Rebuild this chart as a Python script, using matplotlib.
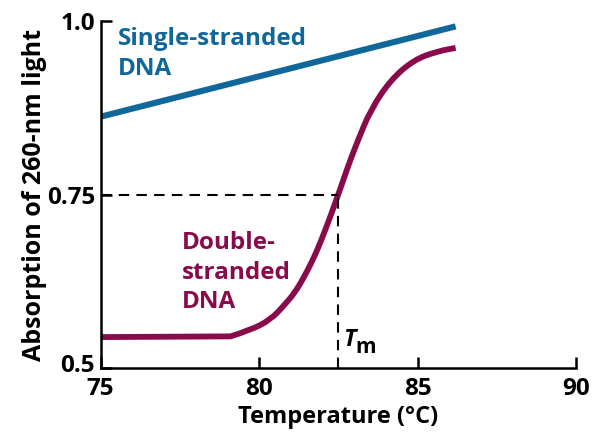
import numpy as np
import matplotlib
matplotlib.use('Agg')
import matplotlib.pyplot as plt
from matplotlib.path import Path
from matplotlib.patches import PathPatch
from matplotlib.transforms import ScaledTranslation

# values
single_temp = [75.0, 86.2]
single_abs = [0.862, 0.992]

double_temp = [75.0, 79.1, 79.73, 80.36, 80.78, 81.15, 81.5, 81.8, 82.1,
               82.5, 82.8, 83.1, 83.52, 84.15, 84.89, 85.62, 86.2]
double_abs = [0.545, 0.546, 0.555, 0.570, 0.590, 0.610, 0.638, 0.666, 0.700,
              0.750, 0.790, 0.826, 0.872, 0.915, 0.944, 0.956, 0.961]

tm = 82.5
tm_abs = 0.75

x_ticks = [75, 80, 85, 90]
y_ticks = [0.5, 0.75, 1.0]
y_ticklabels = ['0.5', '0.75', '1.0']

blue = '#10679a'
magenta = '#8a0b4c'

plt.rcParams['font.family'] = ['Open Sans', 'DejaVu Sans']
plt.rcParams['font.weight'] = 'bold'

fig = plt.figure(figsize=(5.93, 4.38), dpi=100)
ax = fig.add_axes([0.1695, 0.159, 0.802, 0.7935])

ax.plot(single_temp, single_abs, color=blue, lw=4.4, solid_capstyle='butt')

# smooth the read points with quadratic segments (control = read point)
pts = list(zip(double_temp, double_abs))
verts = [pts[0], pts[1]]
codes = [Path.MOVETO, Path.LINETO]
for i in range(2, len(pts) - 1):
    mid = ((pts[i][0] + pts[i + 1][0]) / 2, (pts[i][1] + pts[i + 1][1]) / 2)
    verts += [pts[i], mid]
    codes += [Path.CURVE3, Path.CURVE3]
verts.append(pts[-1])
codes.append(Path.LINETO)
ax.add_patch(PathPatch(Path(verts, codes), facecolor='none', edgecolor=magenta,
                       lw=4.2, capstyle='butt', joinstyle='round'))

# Tm guide lines
ax.plot([75, tm], [tm_abs, tm_abs], color='black', lw=1.5, dashes=(5, 3.5))
ax.plot([tm, tm], [0.5, tm_abs], color='black', lw=1.5, dashes=(5, 3.5))

ax.set_xlim(75, 90)
ax.set_ylim(0.5, 1.0)
ax.set_xticks(x_ticks)
ax.set_yticks(y_ticks)
ax.set_yticklabels(y_ticklabels)

for s in ['top', 'right']:
    ax.spines[s].set_visible(False)
for s in ['left', 'bottom']:
    ax.spines[s].set_linewidth(1.8)
    ax.spines[s].set_capstyle('projecting')

ax.tick_params(direction='in', length=8, width=1.8, labelsize=17.5)
ax.tick_params(axis='x', pad=6)
ax.tick_params(axis='y', pad=4)
for lab in ax.get_xticklabels() + ax.get_yticklabels():
    lab.set_fontweight('bold')
# "0.5" sits a little above the x axis line in the reference
lab05 = ax.get_yticklabels()[0]
lab05.set_transform(lab05.get_transform() + ScaledTranslation(0, 4 / 72, fig.dpi_scale_trans))

ax.set_xlabel('Temperature (°C)', fontsize=17, fontweight='bold', labelpad=3)
ax.set_ylabel('Absorption of 260-nm light', fontsize=18, fontweight='bold', labelpad=0)

# labels, one line at a time on their baselines
for txt, y in [('Single-stranded', 0.9645), ('DNA', 0.9218)]:
    ax.text(75.56, y, txt, color=blue, fontsize=17.5, fontweight='bold',
            va='baseline', ha='left')
for txt, y in [('Double-', 0.672), ('stranded', 0.628), ('DNA', 0.587)]:
    ax.text(77.56, y, txt, color=magenta, fontsize=17.5, fontweight='bold',
            va='baseline', ha='left')

ax.text(82.64, 0.532, 'T', fontsize=17, fontstyle='italic', fontweight='bold',
        va='baseline', ha='left')
ax.text(83.05, 0.522, 'm', fontsize=15, fontweight='bold', va='baseline', ha='left')

fig.savefig('out.png', dpi=100)
